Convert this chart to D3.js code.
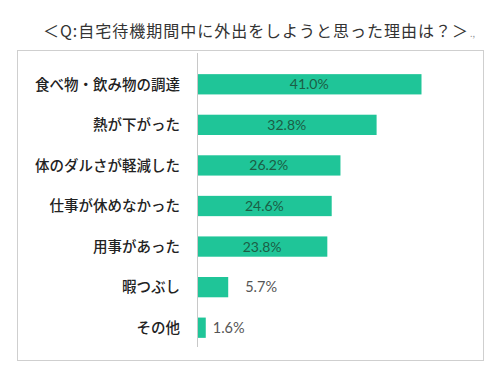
<!DOCTYPE html>
<html>
<head>
<meta charset="utf-8">
<script src="https://cdn.jsdelivr.net/npm/d3@7"></script>
<style>
  body { margin: 0; background: #fff; }
  svg { display: block; }
</style>
</head>
<body>
<div class="chartDiv"></div>
<script>
(function(){
  // data
  var categories = ["食べ物・飲み物の調達", "熱が下がった", "体のダルさが軽減した",
                    "仕事が休めなかった", "用事があった", "暇つぶし", "その他"];
  var values     = [41.0, 32.8, 26.2, 24.6, 23.8, 5.7, 1.6];
  var valueLabels = ["41.0%", "32.8%", "26.2%", "24.6%", "23.8%", "5.7%", "1.6%"];
  var title      = "＜Q:自宅待機期間中に外出をしようと思った理由は？＞";

  var width  = 498,
      height = 372,
      axisX  = 197;

  var svg = d3.select(".chartDiv")
              .append("svg")
              .attr("width", width)
              .attr("height", height);

  // title
  svg.append("text")
     .attr("x", 43).attr("y", 37)
     .attr("font-family", "'Noto Sans CJK JP', sans-serif")
     .attr("font-size", 16)
     .attr("textLength", 425)
     .attr("lengthAdjust", "spacing")
     .attr("fill", "#333")
     .text(title);
  svg.append("text")
     .attr("x", 470).attr("y", 37)
     .attr("font-family", "'Noto Sans CJK JP', sans-serif")
     .attr("font-size", 9)
     .attr("fill", "#999")
     .text(".,");

  // frame
  svg.append("rect")
     .attr("x", 17.5).attr("y", 50.5)
     .attr("width", 466).attr("height", 310)
     .attr("fill", "none")
     .attr("stroke", "#cfcfcf");

  var x = d3.scaleLinear().domain([0, 41]).range([axisX, 421.5]);
  var y = d3.scaleBand().domain(categories).range([64, 348])
            .paddingInner(0.5).paddingOuter(0.25);

  // bars
  svg.selectAll("rect.bar")
     .data(values)
     .enter().append("rect")
     .attr("class", "bar")
     .attr("x", x(0))
     .attr("y", function(d, i){ return y(categories[i]); })
     .attr("width", function(d){ return x(d) - x(0); })
     .attr("height", y.bandwidth())
     .attr("fill", "#1fc598");

  // axis line
  svg.append("line")
     .attr("x1", axisX + 0.5).attr("x2", axisX + 0.5)
     .attr("y1", 53).attr("y2", 347)
     .attr("stroke", "#c8c8c8");

  // category labels
  svg.selectAll("text.cat")
     .data(categories)
     .enter().append("text")
     .attr("class", "cat")
     .attr("x", 180)
     .attr("y", function(d){ return y(d) + y.bandwidth() / 2; })
     .attr("dy", "0.36em")
     .attr("text-anchor", "end")
     .attr("font-family", "'Noto Sans CJK JP', sans-serif")
     .attr("font-weight", 500)
     .attr("font-size", 14.5)
     .attr("fill", "#222")
     .text(function(d){ return d; });

  // value labels
  svg.selectAll("text.val")
     .data(values)
     .enter().append("text")
     .attr("class", "val")
     .attr("x", function(d){ return d > 10 ? (x(0) + x(d)) / 2 : x(d) + (d > 3 ? 17 : 7); })
     .attr("y", function(d, i){ return y(categories[i]) + y.bandwidth() / 2; })
     .attr("dy", "0.36em")
     .attr("text-anchor", function(d){ return d > 10 ? "middle" : "start"; })
     .attr("font-family", "Lato, 'Open Sans', sans-serif")
     .attr("font-size", function(d){ return d > 10 ? 14 : 14.5; })
     .attr("fill", function(d){ return d > 10 ? "#1b5e45" : "#555"; })
     .text(function(d, i){ return valueLabels[i]; });
})()
</script>
</body>
</html>
